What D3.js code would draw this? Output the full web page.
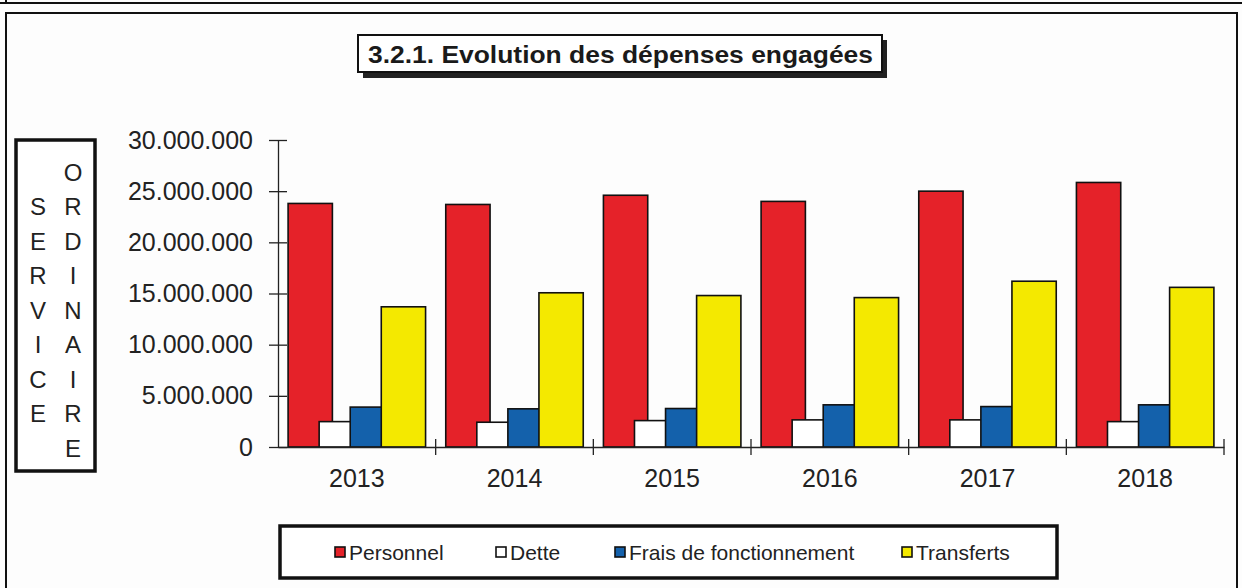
<!DOCTYPE html>
<html>
<head>
<meta charset="utf-8" />
<title>Evolution des dépenses engagées</title>
<script src="https://d3js.org/d3.v7.min.js"></script>
<style>
  body { margin: 0; padding: 0; background: #fdfdfd; }
  svg { display: block; font-family: "Liberation Sans", Arial, sans-serif; }
</style>
</head>
<body>
<div id="chart"></div>
<script>

// data
const years = ['2013', '2014', '2015', '2016', '2017', '2018']
const series = ['Personnel', 'Dette', 'Frais de fonctionnement', 'Transferts']
const personnel = [23800000, 23700000, 24600000, 24000000, 25000000, 25850000]
const dette = [2480000, 2420000, 2580000, 2650000, 2650000, 2480000]
const frais = [3900000, 3730000, 3760000, 4120000, 3950000, 4120000]
const transferts = [13700000, 15070000, 14800000, 14600000, 16200000, 15600000]
const yTicks = [0, 5000000, 10000000, 15000000, 20000000, 25000000, 30000000]
const colors = ['#e52229', '#ffffff', '#1461ab', '#f4e900']
const sideLeft = ['S', 'E', 'R', 'V', 'I', 'C', 'E']
const sideRight = ['O', 'R', 'D', 'I', 'N', 'A', 'I', 'R', 'E']

const values = [personnel, dette, frais, transferts]

const W = 1242, H = 588
const svg = d3.select('#chart').append('svg')
  .attr('width', W).attr('height', H)

// page frame (scan of a document)
svg.append('line').attr('x1', 0).attr('x2', W).attr('y1', 3).attr('y2', 3)
  .attr('stroke', '#111').attr('stroke-width', 2)
svg.append('line').attr('x1', 6).attr('x2', 6).attr('y1', 0).attr('y2', 3)
  .attr('stroke', '#111').attr('stroke-width', 2)
svg.append('path')
  .attr('d', 'M6,' + (H + 5) + 'V13H1237V' + (H + 5))
  .attr('fill', 'none').attr('stroke', '#111').attr('stroke-width', 2)

// title box with shadow
svg.append('rect').attr('x', 363).attr('y', 40).attr('width', 524).attr('height', 38)
  .attr('fill', '#222')
svg.append('rect').attr('x', 358).attr('y', 35).attr('width', 524).attr('height', 37)
  .attr('fill', '#fff').attr('stroke', '#111').attr('stroke-width', 2)
svg.append('text').attr('x', 368).attr('y', 63)
  .attr('font-size', 24).attr('font-weight', 'bold').attr('fill', '#1a1a1a')
  .attr('textLength', 505).attr('lengthAdjust', 'spacingAndGlyphs')
  .text('3.2.1. Evolution des dépenses engagées')

// left side box "SERVICE ORDINAIRE"
svg.append('rect').attr('x', 16).attr('y', 140).attr('width', 79).attr('height', 331)
  .attr('fill', '#fff').attr('stroke', '#111').attr('stroke-width', 3.5)
const rowY = i => 172 + i * 34.5
svg.selectAll('.sl').data(sideLeft).enter().append('text')
  .attr('x', 38).attr('y', (d, i) => rowY(i + 1)).attr('dy', '0.36em')
  .attr('text-anchor', 'middle').attr('font-size', 24).attr('fill', '#222')
  .text(d => d)
svg.selectAll('.sr').data(sideRight).enter().append('text')
  .attr('x', 73).attr('y', (d, i) => rowY(i)).attr('dy', '0.36em')
  .attr('text-anchor', 'middle').attr('font-size', 24).attr('fill', '#222')
  .text(d => d)

// scales
const x = d3.scaleBand().domain(years).range([278, 1224]).padding(0)
const bw = x.bandwidth()
const barW = bw * 0.281
const pad = bw * 0.064
const xs = d3.scalePoint().domain(series).range([pad, bw - pad - barW])
const y = d3.scaleLinear().domain([0, 30000000]).range([447, 140])

// y axis
const fmt = d => d3.format(',')(d).replace(/,/g, '.')
const yAxis = svg.append('g').attr('transform', 'translate(278,0)')
  .call(d3.axisLeft(y).tickValues(yTicks).tickFormat(fmt).tickSize(9).tickPadding(16).tickSizeOuter(0))
yAxis.select('.domain').attr('stroke', '#222').attr('stroke-width', 1.3)
yAxis.selectAll('.tick line').attr('stroke', '#222').attr('stroke-width', 1.3).attr('x2', 9).attr('x1', -9)
yAxis.selectAll('.tick text').attr('font-size', 25).attr('fill', '#222')
  .attr('font-family', '"Liberation Sans", Arial, sans-serif')
  .attr('x', -25)

// bars, drawn series by series so later ones overlap earlier ones
series.forEach((s, si) => {
  svg.append('g').selectAll('rect')
    .data(years.map((yr, i) => ({ yr: yr, v: values[si][i] })))
    .enter().append('rect')
    .attr('x', d => x(d.yr) + xs(s))
    .attr('y', d => y(d.v))
    .attr('width', barW)
    .attr('height', d => y(0) - y(d.v))
    .attr('fill', colors[si])
    .attr('stroke', '#111')
    .attr('stroke-width', 1.6)
})

// x axis
const xAxis = svg.append('g').attr('transform', 'translate(0,447)')
  .call(d3.axisBottom(x).tickSize(0).tickPadding(22))
xAxis.select('.domain').attr('stroke', '#222').attr('stroke-width', 1.3)
xAxis.selectAll('.tick text').attr('font-size', 25).attr('fill', '#222')
  .attr('font-family', '"Liberation Sans", Arial, sans-serif')
// category separators
const seps = years.map(yr => x(yr) + bw)
xAxis.selectAll('.sep').data(seps).enter().append('line')
  .attr('x1', d => d).attr('x2', d => d).attr('y1', -8).attr('y2', 8)
  .attr('stroke', '#222').attr('stroke-width', 1.3)

// legend
svg.append('rect').attr('x', 280).attr('y', 526).attr('width', 777).attr('height', 52)
  .attr('fill', '#fff').attr('stroke', '#111').attr('stroke-width', 3.5)
const legX = [335, 496, 615, 902]
const leg = svg.selectAll('.leg').data(series).enter().append('g')
  .attr('transform', (d, i) => 'translate(' + legX[i] + ',552)')
leg.append('rect').attr('x', 0).attr('y', -5).attr('width', 10).attr('height', 10)
  .attr('fill', (d, i) => colors[i]).attr('stroke', '#111').attr('stroke-width', 1.6)
leg.append('text').attr('x', 14).attr('dy', '0.36em')
  .attr('font-size', 21).attr('fill', '#222')
  .text(d => d)

</script>
</body>
</html>
